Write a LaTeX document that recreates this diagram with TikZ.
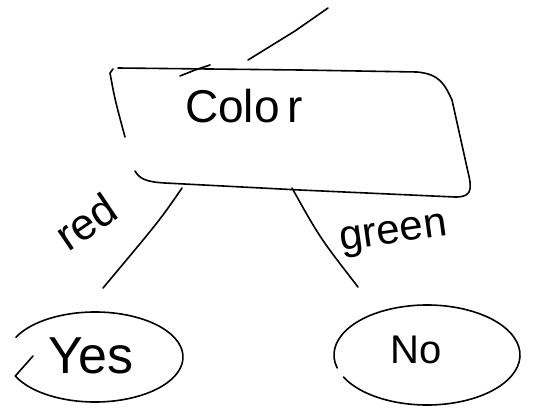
\documentclass[tikz,border=0pt]{standalone}
\usepackage{fontspec}
\setmainfont{Liberation Sans}
\usetikzlibrary{shapes.geometric}
\begin{document}
\begin{tikzpicture}[x=1pt,y=-1pt,
  stroke/.style={line width=1.6pt,line cap=round,line join=round},
  lbl/.style={inner sep=0pt},
  leaf/.style={ellipse,inner sep=0pt}]
\useasboundingbox (0,0) rectangle (546,409);
% root box (hand drawn)
\draw[stroke] (118,68) -- (300,70) -- (417,72) .. controls (440,74) and (445,85) .. (452,100)
  -- (468,172) .. controls (473,192) and (470,197) .. (455,197)
  -- (300,190) -- (165,183) .. controls (145,182) and (139,178) .. (135,171);
\draw[stroke] (113,69) -- (110,73) .. controls (115,100) .. (125,137);
\draw[stroke] (180,76) -- (195,70) -- (210,65);
\node[lbl,font=\fontsize{46}{48}\selectfont] (color) at (244,106) {Colo\hspace{8pt}r};
% incoming connector
\coordinate (inTop) at (328,8);
\coordinate (inKink) at (295,31);
\coordinate (boxTop) at (248,60);
\draw[stroke] (inTop) -- (inKink) -- (boxTop);
% branch anchors
\coordinate (colorRed) at (182,188);
\coordinate (colorGreen) at (292,188);
\coordinate (yesTop) at (103,288);
\coordinate (noTop) at (358,287);
\draw[stroke] (colorRed) .. controls (160,220) .. (yesTop);
\draw[stroke] (colorGreen) .. controls (320,238) .. (noTop);
\node[lbl,rotate=34,font=\fontsize{44}{46}\selectfont] (red) at (86,222) {red};
\node[lbl,rotate=8,font=\fontsize{42}{44}\selectfont] (green) at (394,236) {green};
% leaves
\node[leaf,minimum width=176pt,minimum height=90pt] (yes) at (95,357) {};
\node[lbl,font=\fontsize{52}{54}\selectfont] (yestxt) at (91,356) {Yes};
\draw[stroke] (yes.center) ++(206:88 and 45) arc[start angle=206,end angle=515,x radius=88,y radius=45] -- (33,356);
\node[leaf,minimum width=186pt,minimum height=100pt] (no) at (427,355) {};
\node[lbl,font=\fontsize{40}{42}\selectfont] (notxt) at (416,350) {No};
\draw[stroke] (no.center) ++(165:93 and 50) arc[start angle=165,end angle=514,x radius=93,y radius=50];
\end{tikzpicture}
\end{document}
